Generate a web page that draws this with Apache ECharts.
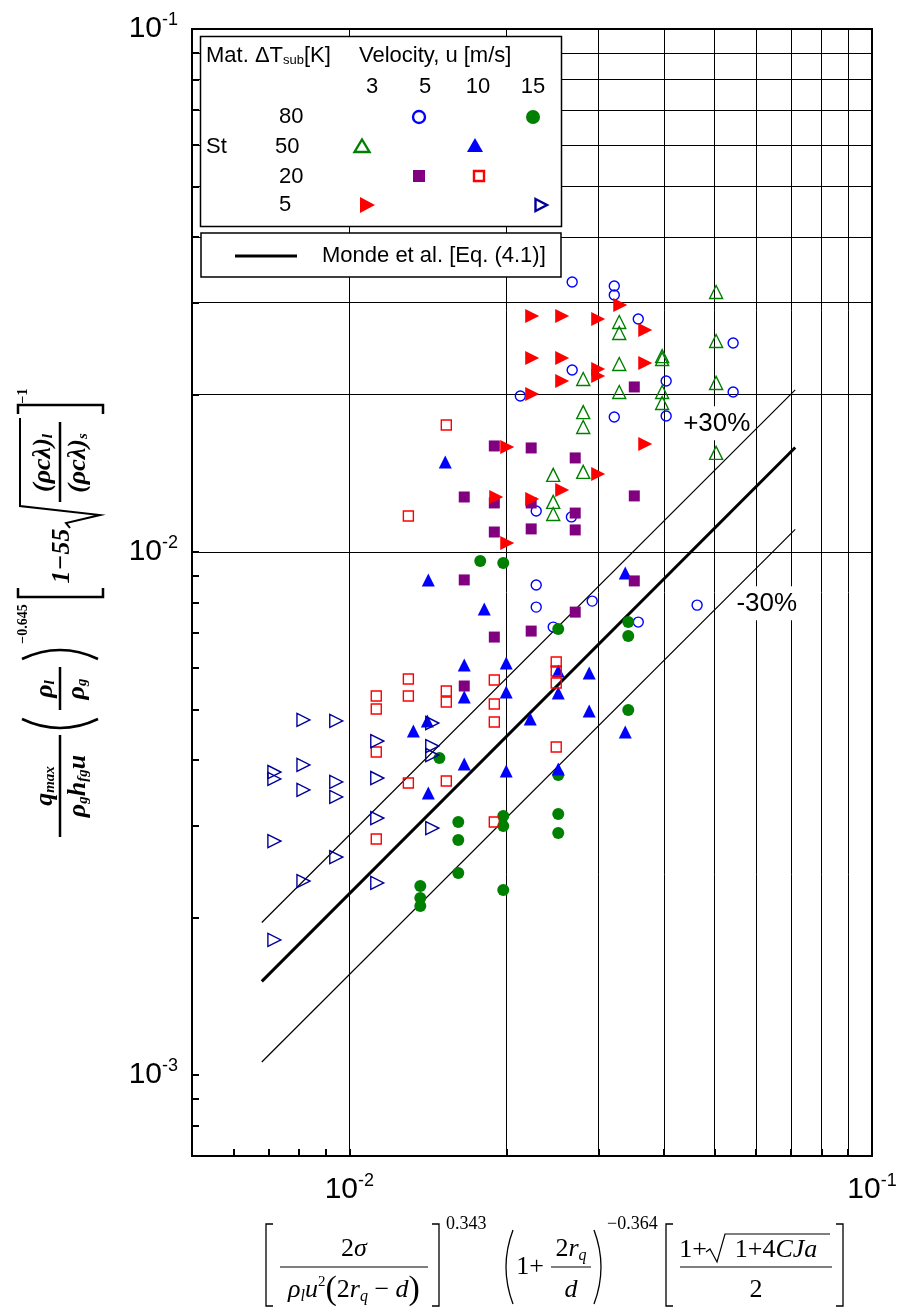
<!DOCTYPE html>
<html>
<head>
<meta charset="utf-8">
<script src="https://cdn.jsdelivr.net/npm/echarts@6/dist/echarts.min.js"></script>
<style>
html, body { margin: 0; padding: 0; background: #fff; }
#chart { width: 901px; height: 1313px; }
</style>
</head>
<body>
<div id="chart"></div>
<script>
// values, [x, y]
// St, dT_sub = 80 K, u = 5 m/s (open circle)
var st80u5 = [[0.02669,0.03283],[0.03213,0.03226],[0.03213,0.03100],[0.03571,0.02789],[0.02669,0.02229],
    [0.05424,0.02510],[0.02124,0.01987],[0.04038,0.02123],[0.05424,0.02023],[0.03213,0.01812],[0.04038,0.01820],
    [0.02278,0.01198],[0.02660,0.01167],[0.02278,0.00865],[0.02278,0.007846],[0.02915,0.008056],[0.02455,0.007185],
    [0.03571,0.007345],[0.04628,0.007915]];
// 80 K, 15 m/s (filled circle)
var st80u15 = [[0.01780,0.009612],[0.01970,0.009528],[0.02510,0.007122],[0.03417,0.007345],[0.03417,0.006906],
    [0.03417,0.004988],[0.01487,0.004037],[0.01616,0.003046],[0.01616,0.002813],[0.01616,0.002433],[0.01367,0.002298],
    [0.01367,0.002180],[0.01367,0.002105],[0.01970,0.003127],[0.01970,0.002993],[0.01970,0.002258],[0.02510,0.003747],
    [0.02510,0.003155],[0.02510,0.002902]];
// 50 K, 3 m/s (open triangle)
var st50u3 = [[0.05032,0.03141],[0.03284,0.02753],[0.03284,0.02623],[0.05032,0.02532],[0.03967,0.02369],
    [0.03967,0.02339],[0.03284,0.02288],[0.02802,0.02142],[0.05032,0.02105],[0.03284,0.02023],[0.03967,0.02023],
    [0.03967,0.01927],[0.02802,0.01851],[0.02802,0.01734],[0.05032,0.01547],[0.02802,0.01423],[0.02455,0.01404],
    [0.02455,0.01247],[0.02455,0.01182]];
// 50 K, 10 m/s (filled triangle)
var st50u10 = [[0.01526,0.01487],[0.01416,0.008843],[0.01812,0.007777],[0.03372,0.009119],[0.01659,0.006080],
    [0.01996,0.006134],[0.01659,0.005282],[0.01996,0.005399],[0.02510,0.005922],[0.02510,0.005375],[0.02877,0.005870],
    [0.02877,0.004966],[0.02219,0.004794],[0.03372,0.004527],[0.01326,0.004547],[0.01410,0.004752],[0.01659,0.003932],
    [0.01996,0.003813],[0.02510,0.003847],[0.01416,0.003461]];
// 20 K, 5 m/s (filled square)
var st20u5 = [[0.03509,0.02068],[0.01894,0.01595],[0.02228,0.01581],[0.02705,0.01513],[0.01659,0.01274],
    [0.01894,0.01241],[0.02228,0.01241],[0.03509,0.01280],[0.02705,0.01187],[0.01894,0.01092],[0.02228,0.01107],
    [0.02705,0.01102],[0.01659,0.008843],[0.03509,0.008804],[0.02705,0.007675],[0.02228,0.007060],[0.01894,0.006876],
    [0.01659,0.005543]];
// 20 K, 10 m/s (open square)
var st20u10 = [[0.01533,0.01749],[0.01297,0.01172],[0.01297,0.005717],[0.01297,0.005305],[0.01126,0.005305],
    [0.01126,0.005010],[0.01533,0.005423],[0.01533,0.005167],[0.01126,0.004146],[0.01297,0.003617],[0.01533,0.003649],
    [0.01126,0.002826],[0.01894,0.005692],[0.01894,0.005121],[0.01894,0.004731],[0.02488,0.006161],[0.02488,0.005922],
    [0.02488,0.005617],[0.02488,0.004238],[0.01894,0.003046]];
// 5 K, 3 m/s (filled right triangle)
var st5u3 = [[0.03299,0.02966],[0.02238,0.02826],[0.02554,0.02826],[0.02993,0.02789],[0.03683,0.02658],
    [0.02238,0.02349],[0.02554,0.02349],[0.03683,0.02298],[0.02993,0.02239],[0.02993,0.02171],[0.02554,0.02123],
    [0.02238,0.02005],[0.03683,0.01609],[0.02005,0.01588],[0.02993,0.01410],[0.02554,0.01314],[0.01910,0.01274],
    [0.02238,0.01263],[0.02005,0.01040]];
// 5 K, 15 m/s (open right triangle)
var st5u15 = [[0.00817,0.004773],[0.00944,0.004752],[0.01131,0.004351],[0.01441,0.004710],[0.01441,0.004256],
    [0.01441,0.004091],[0.007188,0.003796],[0.007188,0.003681],[0.00817,0.003915],[0.00817,0.003507],[0.00944,0.003633],
    [0.00944,0.003401],[0.01131,0.003697],[0.01131,0.003100],[0.007188,0.002801],[0.01441,0.002966],[0.00944,0.002610],
    [0.00817,0.002349],[0.01131,0.002329],[0.007188,0.001812]];

// Monde et al. correlation and +-30 % band (end points)
var mondeLine = [[0.0068, 0.00151], [0.0713, 0.01584]];
var plus30Line = [[0.0068, 0.001957], [0.0713, 0.02041]];
var minus30Line = [[0.0068, 0.001059], [0.0713, 0.01105]];
var bandLabels = [[0.05046, 0.01762, '+30%'], [0.06291, 0.007977, '-30%']];

// axes
var xRange = [0.005, 0.1];
var yRange = [0.0007, 0.1];
var xGrid = [0.006, 0.007, 0.008, 0.009, 0.01, 0.02, 0.03, 0.04, 0.05, 0.06, 0.07, 0.08, 0.09];
var yGrid = [0.0008, 0.0009, 0.001, 0.002, 0.003, 0.004, 0.005, 0.006, 0.007, 0.008, 0.009,
    0.01, 0.02, 0.03, 0.04, 0.05, 0.06, 0.07, 0.08, 0.09];

var SANS = 'Liberation Sans';
var SERIF = 'Liberation Serif';

function powLabel(v) {
    var l = Math.log(v) / Math.LN10;
    var e = Math.round(l);
    if (Math.abs(l - e) > 1e-6) return '';
    return '{b|10}{s|' + e + '}';
}

var tickRich = {
    b: {fontSize: 30, fontFamily: SANS, color: '#000', lineHeight: 36},
    s: {fontSize: 18, fontFamily: SANS, color: '#000', verticalAlign: 'top', lineHeight: 18}
};

function dots(name, data, symbol, size, color, filled, rotate) {
    return {
        name: name, type: 'scatter', data: data, symbol: symbol, symbolSize: size,
        symbolRotate: rotate || 0, z: 4, animation: false,
        itemStyle: filled ? {color: color, opacity: 1}
            : {color: 'rgba(255,255,255,0)', borderColor: color, borderWidth: 1.4, opacity: 1},
        emphasis: {disabled: true}
    };
}

function line(data, w) {
    return {
        type: 'line', data: data, showSymbol: false, z: 3, animation: false, silent: true,
        lineStyle: {color: '#000', width: w}
    };
}

var gridLines = [];
for (var i = 0; i < xGrid.length; i++) gridLines.push({xAxis: xGrid[i]});
for (var i = 0; i < yGrid.length; i++) gridLines.push({yAxis: yGrid[i]});

// graphic helpers
function txt(x, y, text, rich, align) {
    return {type: 'text', x: x, y: y, z: 100, silent: true,
        style: {text: text, rich: rich, textAlign: align || 'center', textVerticalAlign: 'middle', fill: '#000'}};
}
function seg(pts, w) {
    return {type: 'polyline', z: 100, silent: true, shape: {points: pts},
        style: {stroke: '#000', lineWidth: w || 1.3, fill: 'none'}};
}
function curve(x1, y1, x2, y2, cx, cy, w) {
    return {type: 'bezierCurve', z: 100, silent: true,
        shape: {x1: x1, y1: y1, x2: x2, y2: y2, cpx1: cx, cpy1: cy},
        style: {stroke: '#000', lineWidth: w || 1.3, fill: 'none'}};
}
function poly(pts, color, filled) {
    return {type: 'polygon', z: 100, silent: true, shape: {points: pts},
        style: filled ? {fill: color} : {fill: 'none', stroke: color, lineWidth: 2.4}};
}

// legend table
var L = {
    n: {fontFamily: SANS, fontSize: 22, fill: '#000'},
    sb: {fontFamily: SANS, fontSize: 13, fill: '#000', verticalAlign: 'bottom'}
};
var legend = [
    {type: 'rect', z: 99, silent: true, shape: {x: 200.5, y: 36.5, width: 361, height: 190},
        style: {fill: '#fff', stroke: '#000', lineWidth: 1.5}},
    {type: 'rect', z: 99, silent: true, shape: {x: 201, y: 233, width: 360, height: 44},
        style: {fill: '#fff', stroke: '#000', lineWidth: 1.5}},
    txt(206, 56, '{n|Mat. ΔT}{sb|sub}{n|[K]}', L, 'left'),
    txt(359, 56, '{n|Velocity, u [m/s]}', L, 'left'),
    txt(372, 87, '{n|3}', L), txt(425, 87, '{n|5}', L), txt(478, 87, '{n|10}', L), txt(533, 87, '{n|15}', L),
    txt(279, 117, '{n|80}', L, 'left'), txt(206, 147, '{n|St}', L, 'left'), txt(275, 147, '{n|50}', L, 'left'),
    txt(279, 177, '{n|20}', L, 'left'), txt(279, 205, '{n|5}', L, 'left'),
    {type: 'circle', z: 100, silent: true, shape: {cx: 419, cy: 117, r: 6},
        style: {fill: 'none', stroke: '#0000ff', lineWidth: 2.4}},
    {type: 'circle', z: 100, silent: true, shape: {cx: 533, cy: 117, r: 7}, style: {fill: '#008000'}},
    poly([[362, 139.5], [369.5, 152], [354.5, 152]], '#008000', false),
    poly([[475, 138], [483, 152], [467, 152]], '#0000ff', true),
    {type: 'rect', z: 100, silent: true, shape: {x: 413, y: 170, width: 12, height: 12}, style: {fill: '#800080'}},
    {type: 'rect', z: 100, silent: true, shape: {x: 474, y: 171, width: 10, height: 10},
        style: {fill: 'none', stroke: '#ff0000', lineWidth: 2.4}},
    poly([[360, 197], [375, 205], [360, 213]], '#ff0000', true),
    poly([[535.5, 199], [547, 205], [535.5, 211]], '#000099', false),
    seg([[235, 256], [297, 256]], 3),
    txt(322, 256, '{n|Monde et al. [Eq. (4.1)]}', L, 'left')
];

// x axis title (formula)
var F = {
    n: {fontFamily: SERIF, fontSize: 26, fill: '#000', lineHeight: 30},
    i: {fontFamily: SERIF, fontStyle: 'italic', fontSize: 26, fill: '#000', lineHeight: 30},
    sb: {fontFamily: SERIF, fontStyle: 'italic', fontSize: 16, fill: '#000', verticalAlign: 'bottom', lineHeight: 16},
    sp: {fontFamily: SERIF, fontSize: 15, fill: '#000', verticalAlign: 'top', lineHeight: 15},
    p: {fontFamily: SERIF, fontSize: 34, fill: '#000', lineHeight: 30},
    e: {fontFamily: SERIF, fontSize: 18, fill: '#000'}
};
var xTitle = [
    seg([[273, 1224], [266, 1224], [266, 1306], [273, 1306]]),
    txt(354, 1249, '{n|2}{i|σ}', F),
    seg([[280, 1267], [428, 1267]], 1.2),
    txt(354, 1290, '{i|ρ}{sb|l}{i|u}{sp|2}{p|(}{n|2}{i|r}{sb|q}{n| − }{i|d}{p|)}', F),
    seg([[432, 1224], [439, 1224], [439, 1306], [432, 1306]]),
    txt(446, 1224, '{e|0.343}', F, 'left'),
    curve(513, 1230, 513, 1304, 499, 1267),
    txt(530, 1267, '{n|1+}', F),
    txt(571, 1249, '{n|2}{i|r}{sb|q}', F),
    seg([[551, 1267], [591, 1267]], 1.2),
    txt(571, 1290, '{i|d}', F),
    curve(594, 1230, 594, 1304, 608, 1267),
    txt(607, 1224, '{e|−0.364}', F, 'left'),
    seg([[673, 1224], [666, 1224], [666, 1306], [673, 1306]]),
    txt(693, 1250, '{n|1+}', F),
    seg([[706, 1252], [710, 1249], [717, 1262], [725, 1234], [830, 1234]], 1.2),
    txt(776, 1250, '{n|1+4}{i|CJa}', F),
    seg([[680, 1267], [832, 1267]], 1.2),
    txt(756, 1290, '{n|2}', F),
    seg([[836, 1224], [843, 1224], [843, 1306], [836, 1306]])
];

// y axis title (formula, rotated)
var Y = {
    a: {fontFamily: SERIF, fontStyle: 'italic', fontWeight: 'bold', fontSize: 26, fill: '#000'},
    s: {fontFamily: SERIF, fontStyle: 'italic', fontWeight: 'bold', fontSize: 15, fill: '#000', verticalAlign: 'bottom'},
    e: {fontFamily: SERIF, fontWeight: 'bold', fontSize: 14, fill: '#000'}
};
var yTitle = {
    type: 'group', x: 60, y: 840, rotation: Math.PI / 2, children: [
        seg([[3, 0], [105, 0]], 2.5),
        txt(54, -15, '{a|q}{s|max}', Y),
        txt(54, 18, '{a|ρ}{s|g}{a|h}{s|fg}{a|u}', Y),
        curve(121, -38, 121, 38, 103, 0, 2.5),
        txt(151, -15, '{a|ρ}{s|l}', Y),
        seg([[130, 0], [173, 0]], 2.5),
        txt(151, 17, '{a|ρ}{s|g}', Y),
        curve(181, -38, 181, 38, 199, 0, 2.5),
        txt(216, -37, '{e|−0.645}', Y),
        seg([[252, -42], [243, -42], [243, 43], [252, 43]], 2.5),
        txt(284, 2, '{a|1−55}', Y),
        seg([[312, 10], [317, 6], [325, 40], [334, -40], [422, -40]], 2),
        txt(377, -17, '{a|(ρcλ)}{s|l}', Y),
        seg([[338, 0], [418, 0]], 2.5),
        txt(377, 18, '{a|(ρcλ)}{s|s}', Y),
        seg([[426, -42], [435, -42], [435, 43], [426, 43]], 2.5),
        txt(444, -37, '{e|−1}', Y)
    ]
};

var chart = echarts.init(document.getElementById('chart'), null, {renderer: 'canvas'});
chart.setOption({
    animation: false,
    backgroundColor: '#fff',
    grid: {left: 192, top: 29, right: 29, bottom: 157, show: true, borderColor: '#000', borderWidth: 2},
    xAxis: {
        type: 'log', logBase: 10, min: xRange[0], max: xRange[1],
        axisLine: {show: true, onZero: false, lineStyle: {color: '#000', width: 2}},
        axisTick: {show: true, inside: true, length: 7, customValues: xGrid, lineStyle: {color: '#000', width: 2}},
        axisLabel: {formatter: powLabel, margin: 16, rich: tickRich},
        splitLine: {show: false}
    },
    yAxis: {
        type: 'log', logBase: 10, min: yRange[0], max: yRange[1],
        axisLine: {show: true, onZero: false, lineStyle: {color: '#000', width: 2}},
        axisTick: {show: true, inside: true, length: 7, customValues: yGrid, lineStyle: {color: '#000', width: 2}},
        axisLabel: {formatter: powLabel, margin: 14, rich: tickRich},
        splitLine: {show: false}
    },
    graphic: {elements: legend.concat(xTitle, [yTitle])},
    series: [
        {
            type: 'line', data: [], silent: true, z: 1,
            markLine: {
                silent: true, symbol: ['none', 'none'], z: 1, animation: false,
                label: {show: false}, emphasis: {disabled: true},
                lineStyle: {color: '#000', width: 1, type: 'solid'},
                data: gridLines
            }
        },
        {
            type: 'scatter', data: bandLabels, symbol: 'rect', symbolSize: 1, z: 2, silent: true,
            itemStyle: {color: 'rgba(0,0,0,0)', opacity: 1},
            label: {show: true, position: 'inside', formatter: function (p) { return p.data[2]; },
                fontFamily: SANS, fontSize: 26, color: '#000', opacity: 1,
                backgroundColor: '#fff', padding: [4, 2]}
        },
        line(plus30Line, 1.2),
        line(mondeLine, 3),
        line(minus30Line, 1.2),
        dots('80K 5m/s', st80u5, 'circle', 10, '#0000ff', false),
        dots('80K 15m/s', st80u15, 'circle', 12, '#008000', true),
        dots('50K 3m/s', st50u3, 'triangle', 13, '#008000', false),
        dots('50K 10m/s', st50u10, 'triangle', 13, '#0000ff', true),
        dots('20K 5m/s', st20u5, 'rect', 11, '#800080', true),
        dots('20K 10m/s', st20u10, 'rect', 10, '#ff0000', false),
        dots('5K 3m/s', st5u3, 'triangle', 14, '#ff0000', true, -90),
        dots('5K 15m/s', st5u15, 'triangle', 13, '#000099', false, -90)
    ]
});
</script>
</body>
</html>
